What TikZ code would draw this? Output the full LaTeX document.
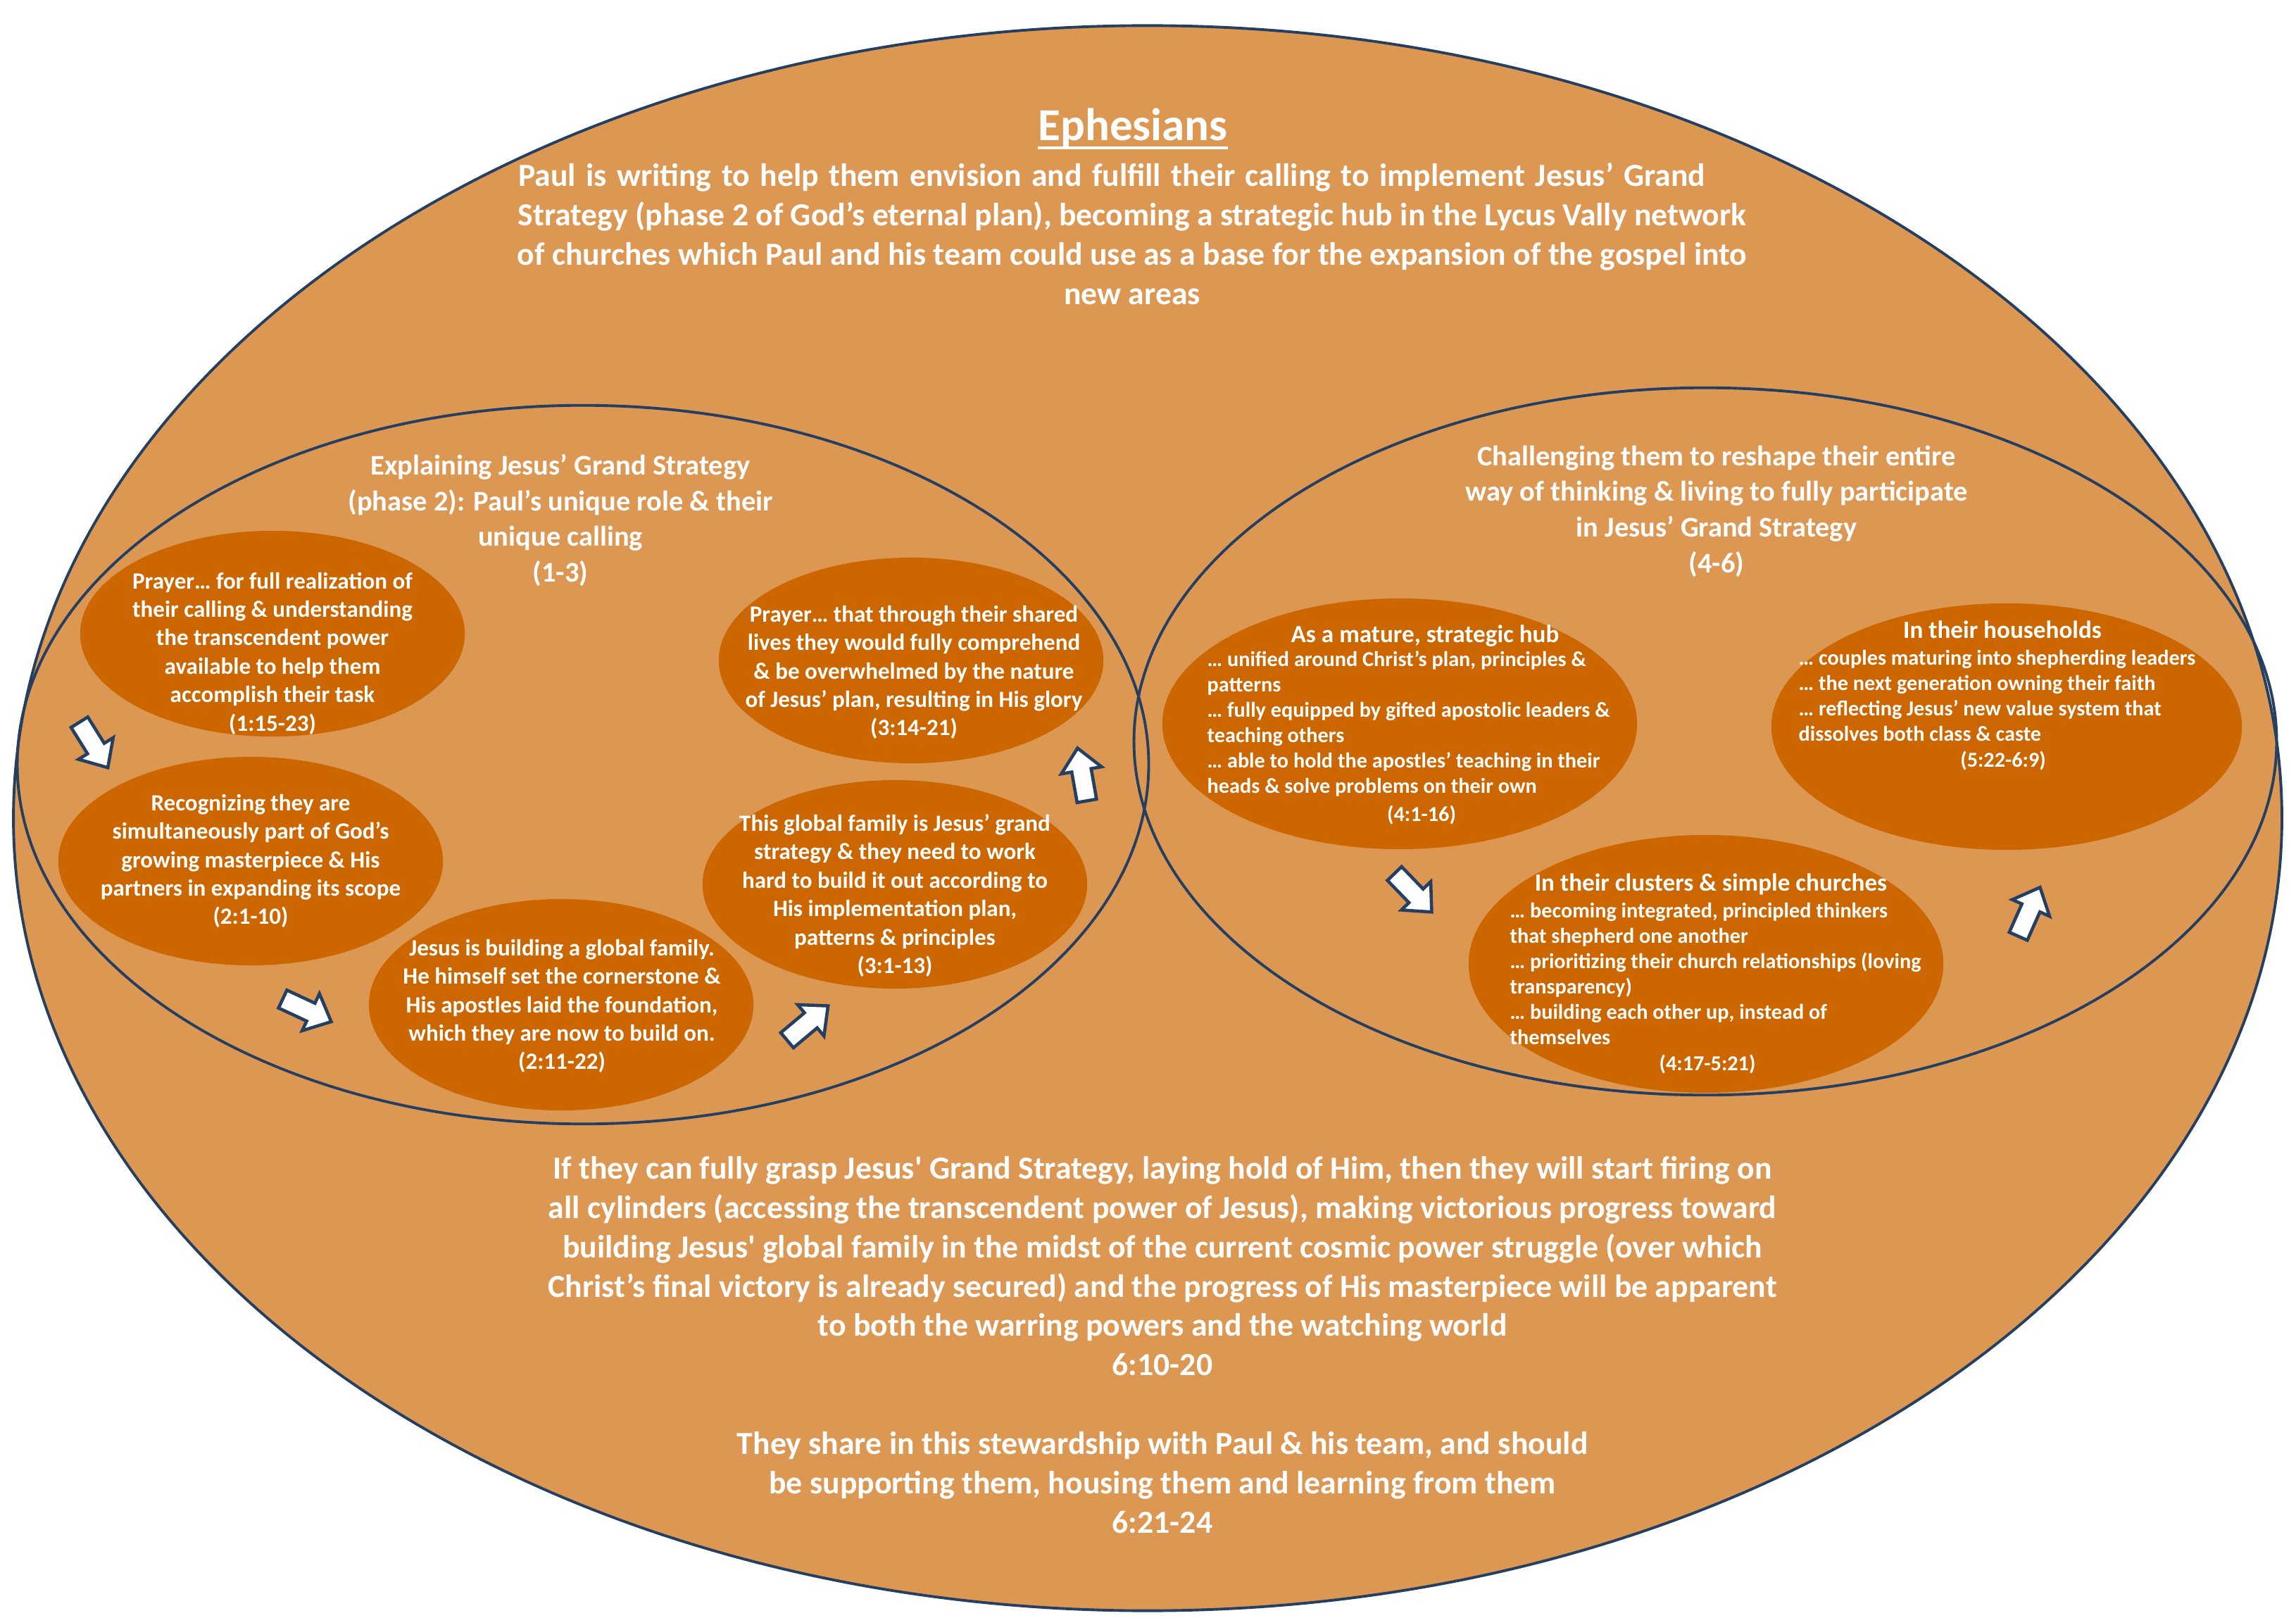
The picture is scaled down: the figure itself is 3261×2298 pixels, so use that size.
\documentclass[tikz,border=0pt]{standalone}
\usepackage{fontspec}
\setmainfont{Carlito}
\usetikzlibrary{shapes.geometric}
\definecolor{outerfill}{HTML}{DC9753}
\definecolor{innerfill}{HTML}{CC6600}
\definecolor{navy}{HTML}{243F60}
\newcommand\fTitle{\fontsize{18.5pt}{22pt}\selectfont\bfseries}
\newcommand\fBody{\fontsize{13pt}{15.9pt}\selectfont\bfseries}
\newcommand\fHead{\fontsize{11.5pt}{14.4pt}\selectfont\bfseries}
\newcommand\fIn{\fontsize{9.4pt}{11.5pt}\selectfont\bfseries}
\newcommand\fRH{\fontsize{10pt}{12pt}\selectfont\bfseries}
\newcommand\fRI{\fontsize{8.6pt}{10.25pt}\selectfont\bfseries}
\newcommand\blockarrowat[4]{%
  \coordinate (#1) at (#2,#3);
  \draw[blockarr, shift={(#1)}, rotate=#4] (-38,-14) -- (6,-14) -- (6,-29) -- (38,0) -- (6,29) -- (6,14) -- (-38,14) -- cycle;
}
\begin{document}
\begin{tikzpicture}[x=0.01cm,y=-0.01cm,
  bigell/.style={ellipse, draw=navy, line width=1.1pt, inner sep=0},
  smallell/.style={ellipse, fill=innerfill, inner sep=0},
  blockarr/.style={draw=navy, line width=1.3pt, fill=white, line join=miter},
  txt/.style={text=white, align=center, inner sep=0},
  ltxt/.style={text=white, align=left, inner sep=0, anchor=west}]
\useasboundingbox (0,0) rectangle (3261,2298);
\fill[white] (0,0) rectangle (3261,2298);
% ellipses
\node[bigell, fill=outerfill, minimum width=32.2cm, minimum height=22.5cm] (outer) at (1630,1162) {};
\node[bigell, minimum width=16.06cm, minimum height=10.2cm] (leftell) at (828,1086) {};
\node[bigell, minimum width=16.22cm, minimum height=10.04cm] (rightell) at (2422,1053) {};
\node[smallell, minimum width=5.46cm, minimum height=2.92cm] (e1) at (387,900) {};
\node[smallell, minimum width=5.46cm, minimum height=2.96cm] (e2) at (356,1223) {};
\node[smallell, minimum width=5.46cm, minimum height=3.0cm] (e3) at (797,1427) {};
\node[smallell, minimum width=5.46cm, minimum height=2.96cm] (e4) at (1271,1256) {};
\node[smallell, minimum width=5.46cm, minimum height=2.92cm] (e5) at (1294,938) {};
\node[smallell, minimum width=6.74cm, minimum height=3.56cm] (e6) at (1988,1028) {};
\node[smallell, minimum width=6.74cm, minimum height=3.66cm] (e7) at (2423,1369) {};
\node[smallell, minimum width=6.68cm, minimum height=3.5cm] (e8) at (2850,1032) {};
% title
\node[txt, font=\fTitle, anchor=base] (title) at (1609,200) {Ephesians};
\draw[white, line width=1.2pt] ([yshift=-2.8pt]title.base west) -- ([yshift=-2.8pt]title.base east);
\node[txt, font=\fBody] (intro) at (1608,332) {{\spaceskip=4.1pt Paul is writing to help them envision and fulfill their calling to implement Jesus’ Grand}\hspace*{16.5pt}\\
Strategy (phase 2 of God’s eternal plan), becoming a strategic hub in the Lycus Vally network\\
of churches which Paul and his team could use as a base for the expansion of the gospel into\\
new areas};
% big ellipse titles
\node[txt, font=\fHead] (lefttitle) at (796,739) {Explaining Jesus’ Grand Strategy\\(phase 2): Paul’s unique role \& their\\unique calling\\(1-3)};
\node[txt, font=\fHead] (righttitle) at (2438,726) {Challenging them to reshape their entire\\way of thinking \& living to fully participate\\in Jesus’ Grand Strategy\\(4-6)};
% left inner texts
\node[txt, font=\fIn] (t1) at (387,928) {Prayer… for full realization of\\their calling \& understanding\\the transcendent power\\available to help them\\accomplish their task\\(1:15-23)};
\node[txt, font=\fIn] (t2) at (356,1223) {Recognizing they are\\simultaneously part of God’s\\growing masterpiece \& His\\partners in expanding its scope\\(2:1-10)};
\node[txt, font=\fIn] (t3) at (798,1429) {Jesus is building a global family.\\He himself set the cornerstone \&\\His apostles laid the foundation,\\which they are now to build on.\\(2:11-22)};
\node[txt, font=\fIn] (t4) at (1271,1272) {This global family is Jesus’ grand\\strategy \& they need to work\\hard to build it out according to\\His implementation plan,\\patterns \& principles\\(3:1-13)};
\node[txt, font=\fIn] (t5) at (1298,955) {Prayer… that through their shared\\lives they would fully comprehend\\\& be overwhelmed by the nature\\of Jesus’ plan, resulting in His glory\\(3:14-21)};
% right inner texts
\node[txt, font=\fRH] (h6) at (2024,903) {As a mature, strategic hub};
\node[ltxt, font=\fRI] (i6) at (1714,1028) {… unified around Christ’s plan, principles \&\\patterns\\… fully equipped by gifted apostolic leaders \&\\teaching others\\… able to hold the apostles’ teaching in their\\heads \& solve problems on their own};
\node[txt, font=\fRI] (r6) at (2019,1158) {(4:1-16)};
\node[txt, font=\fRH] (h8) at (2844,894) {In their households};
\node[ltxt, font=\fRI] (i8) at (2554,988) {… couples maturing into shepherding leaders\\… the next generation owning their faith\\… reflecting Jesus’ new value system that\\dissolves both class \& caste};
\node[txt, font=\fRI] (r8) at (2845,1081) {(5:22-6:9)};
\node[txt, font=\fRH] (h7) at (2430,1256) {In their clusters \& simple churches};
\node[ltxt, font=\fRI] (i7) at (2144,1383) {… becoming integrated, principled thinkers\\that shepherd one another\\… prioritizing their church relationships (loving\\transparency)\\… building each other up, instead of\\themselves};
\node[txt, font=\fRI] (r7) at (2425,1512) {(4:17-5:21)};
% bottom text
\node[txt, font=\fBody] (conclusion) at (1651,1910) {If they can fully grasp Jesus\textquotesingle\ Grand Strategy, laying hold of Him, then they will start firing on\\
all cylinders (accessing the transcendent power of Jesus), making victorious progress toward\\
building Jesus\textquotesingle\ global family in the midst of the current cosmic power struggle (over which\\
Christ’s final victory is already secured) and the progress of His masterpiece will be apparent\\
to both the warring powers and the watching world\\
6:10-20\\[15.9pt]
They share in this stewardship with Paul \& his team, and should\\
be supporting them, housing them and learning from them\\
6:21-24};
% arrows
\blockarrowat{a1}{133}{1058}{-58}
\blockarrowat{a2}{436}{1435}{-25}
\blockarrowat{a3}{1147}{1453}{40}
\blockarrowat{a4}{1537}{1100}{100}
\blockarrowat{a5}{2007}{1268}{-46}
\blockarrowat{a6}{2882}{1295}{66}
\end{tikzpicture}
\end{document}
